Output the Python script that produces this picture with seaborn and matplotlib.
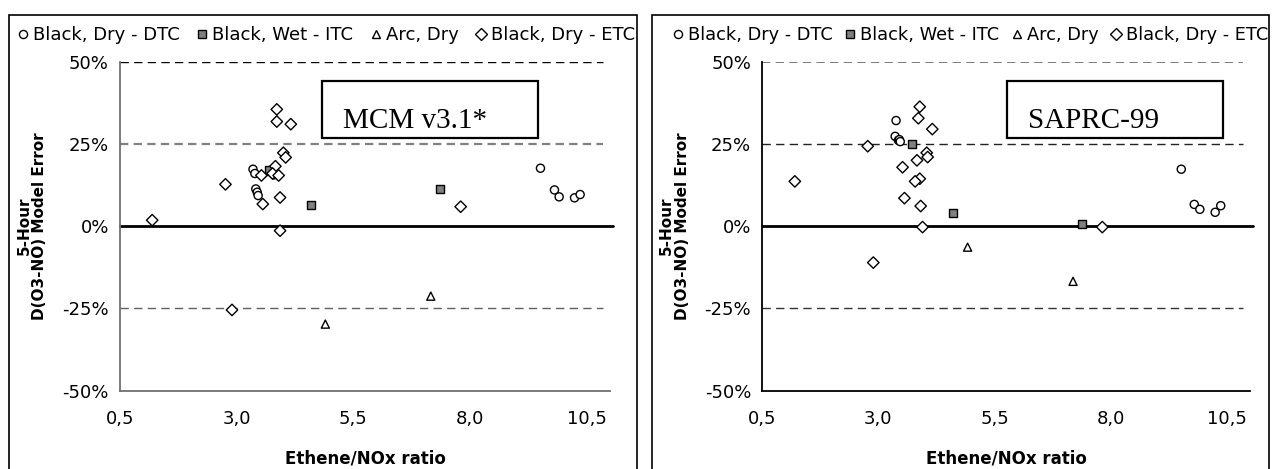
import numpy as np
import pandas as pd
import matplotlib
matplotlib.use("Agg")
import matplotlib.pyplot as plt
import seaborn as sns
from matplotlib.patches import Rectangle
from matplotlib.ticker import FixedLocator, FixedFormatter

# ---------------- data ----------------
series_names = ["Black, Dry - DTC", "Black, Wet - ITC", "Arc, Dry", "Black, Dry - ETC"]
x_ticks = [0.5, 3.0, 5.5, 8.0, 10.5]
x_tick_labels = ["0,5", "3,0", "5,5", "8,0", "10,5"]
y_ticks = [-50, -25, 0, 25, 50]
y_tick_labels = ["-50%", "-25%", "0%", "25%", "50%"]
panel_titles = ["MCM v3.1*", "SAPRC-99"]

# MCM v3.1* panel (ratio, error %)
mcm_dtc_x = [3.35, 3.39, 3.41, 3.44, 3.46, 3.80, 9.51, 9.81, 9.91, 10.24, 10.36]
mcm_dtc_y = [17.3, 16.0, 11.3, 10.3, 9.3, 15.6, 17.6, 11.0, 8.9, 8.6, 9.6]
mcm_itc_x = [3.69, 4.60, 7.36]
mcm_itc_y = [16.9, 6.5, 11.3]
mcm_arc_x = [4.90, 7.16]
mcm_arc_y = [-29.8, -21.3]
mcm_etc_x = [1.19, 2.76, 2.90, 3.86, 3.86, 4.16, 4.00, 4.05, 3.83, 3.53, 3.77, 3.90, 3.93, 3.56, 3.93, 7.80]
mcm_etc_y = [1.8, 12.7, -25.5, 35.5, 31.8, 31.0, 22.3, 20.9, 18.2, 15.4, 16.0, 15.4, 8.7, 6.7, -1.4, 5.9]

# SAPRC-99 panel
sap_dtc_x = [3.38, 3.36, 3.43, 3.45, 3.47, 9.52, 9.80, 9.92, 10.25, 10.37]
sap_dtc_y = [32.1, 27.3, 26.1, 26.3, 25.7, 17.3, 6.6, 5.1, 4.2, 6.2]
sap_itc_x = [3.72, 4.60, 7.38]
sap_itc_y = [24.9, 3.9, 0.6]
sap_arc_x = [4.92, 7.19]
sap_arc_y = [-6.4, -16.8]
sap_etc_x = [1.20, 2.77, 2.89, 3.89, 3.86, 4.16, 4.04, 4.06, 3.83, 3.52, 3.89, 3.79, 3.56, 3.91, 3.95, 7.82]
sap_etc_y = [13.6, 24.3, -11.1, 36.3, 32.8, 29.5, 22.3, 21.0, 20.0, 17.9, 14.4, 13.6, 8.5, 6.1, -0.3, -0.3]


def make_df(groups):
    rows = []
    for name, xs, ys in groups:
        for xv, yv in zip(xs, ys):
            rows.append({"series": name, "ratio": xv, "error": yv})
    return pd.DataFrame(rows)


df_mcm = make_df([(series_names[0], mcm_dtc_x, mcm_dtc_y),
                  (series_names[1], mcm_itc_x, mcm_itc_y),
                  (series_names[2], mcm_arc_x, mcm_arc_y),
                  (series_names[3], mcm_etc_x, mcm_etc_y)])
df_sap = make_df([(series_names[0], sap_dtc_x, sap_dtc_y),
                  (series_names[1], sap_itc_x, sap_itc_y),
                  (series_names[2], sap_arc_x, sap_arc_y),
                  (series_names[3], sap_etc_x, sap_etc_y)])

fills = {series_names[0]: "white", series_names[1]: "#808080",
         series_names[2]: "white", series_names[3]: "white"}
markers = {series_names[0]: "o", series_names[1]: "s",
           series_names[2]: "^", series_names[3]: "D"}

# ---------------- figure ----------------
sns.set_theme(style="white")
plt.rcParams["font.family"] = ["DejaVu Sans"]
plt.rcParams["text.color"] = "black"
plt.rcParams["axes.labelcolor"] = "black"
plt.rcParams["xtick.color"] = "black"
plt.rcParams["ytick.color"] = "black"

W, H = 1273, 469
fig = plt.figure(figsize=(W / 100, H / 100), dpi=100)

ax_top_px, ax_bot_px = 61.7, 390.5
panels = [
    dict(df=df_mcm, left=120, right=610, title=panel_titles[0],
         box=(322, 80.7, 538, 137.7), text_x=343, border=(9, 637),
         ylab_x=(24, 40), leg_cx=325, leg_fs=13, leg_cs=0.8, spine_col="#707070",
         grid=[(50, "black", 1.0), (25, "#808080", 1.6), (-25, "#606060", 1.0)]),
    dict(df=df_sap, left=762.3, right=1250, title=panel_titles[1],
         box=(1006.7, 80.7, 1223, 137.7), text_x=1028, border=(652, 1269),
         ylab_x=(666.5, 682.5), leg_cx=969, leg_fs=12.8, leg_cs=0.55, spine_col="black",
         grid=[(50, "#707070", 1.3), (25, "#222222", 1.0), (-25, "#333333", 1.0)]),
]

for p in panels:
    # chart border
    b0, b1 = p["border"]
    fig.add_artist(Rectangle((b0 / W, -0.01), (b1 - b0) / W, 1.01 - 15 / H,
                             transform=fig.transFigure, fill=False,
                             edgecolor="black", linewidth=1.2))

    ax = fig.add_axes([p["left"] / W, 1 - ax_bot_px / H,
                       (p["right"] - p["left"]) / W, (ax_bot_px - ax_top_px) / H])
    ax.set_facecolor("none")

    for yv, col, lw in p["grid"]:
        ax.axhline(yv, color=col, linewidth=lw, linestyle=(0, (6.0 / lw, 3.8 / lw)),
                   xmax=0.985, zorder=1)
    ax.axhline(0, color="black", linewidth=2.0, zorder=2, xmax=1.006, clip_on=False)

    sns.scatterplot(data=p["df"], x="ratio", y="error", hue="series", style="series",
                    hue_order=series_names, style_order=series_names,
                    palette=fills, markers=markers, s=34, edgecolor="black",
                    linewidth=1.0, ax=ax, zorder=3, clip_on=False)

    ax.set_xlim(0.5, 11.0)
    ax.set_ylim(-50, 50)
    ax.xaxis.set_major_locator(FixedLocator(x_ticks))
    ax.xaxis.set_major_formatter(FixedFormatter(x_tick_labels))
    ax.yaxis.set_major_locator(FixedLocator(y_ticks))
    ax.yaxis.set_major_formatter(FixedFormatter(y_tick_labels))

    for side in ["top", "right"]:
        ax.spines[side].set_visible(False)
    for side in ["left", "bottom"]:
        ax.spines[side].set_color(p["spine_col"])
        ax.spines[side].set_linewidth(1.3)
    ax.tick_params(axis="both", direction="inout", length=6, width=1.0,
                   color=p["spine_col"], labelsize=13, labelcolor="black")
    ax.tick_params(axis="y", pad=5)
    ax.tick_params(axis="x", pad=11)

    ax.set_xlabel("Ethene/NOx ratio", fontsize=12, fontweight="bold", color="black")
    ax.xaxis.set_label_coords(0.5, -(458 - ax_bot_px) / (ax_bot_px - ax_top_px))
    ax.xaxis.label.set_va("center")
    ax.set_ylabel("")

    # y label as two lines
    fig.text(p["ylab_x"][0] / W, 1 - 226 / H, "5-Hour", rotation=90,
             ha="center", va="center", fontsize=11, fontweight="bold", color="black")
    fig.text(p["ylab_x"][1] / W, 1 - 226 / H, "D(O3-NO) Model Error", rotation=90,
             ha="center", va="center", fontsize=11, fontweight="bold", color="black")

    # model name box
    x0, y0, x1, y1 = p["box"]
    fig.add_artist(Rectangle((x0 / W, 1 - y1 / H), (x1 - x0) / W, (y1 - y0) / H,
                             transform=fig.transFigure, facecolor="white",
                             edgecolor="black", linewidth=1.6, zorder=5))
    fig.text(p["text_x"] / W, 1 - 128.3 / H, p["title"], ha="left", va="baseline",
             fontsize=21, family="Liberation Serif", color="black", zorder=6)

    # legend
    sns.move_legend(ax, loc="center", bbox_to_anchor=(p["leg_cx"] / W, 1 - 35 / H),
                    bbox_transform=fig.transFigure, ncol=4, frameon=False,
                    title=None, fontsize=p["leg_fs"], handletextpad=0.1,
                    columnspacing=p["leg_cs"], handlelength=0.9, markerscale=1.0,
                    borderaxespad=0)
    leg = ax.get_legend()
    for t in leg.get_texts():
        t.set_color("black")

fig.savefig("out.png", dpi=100)
